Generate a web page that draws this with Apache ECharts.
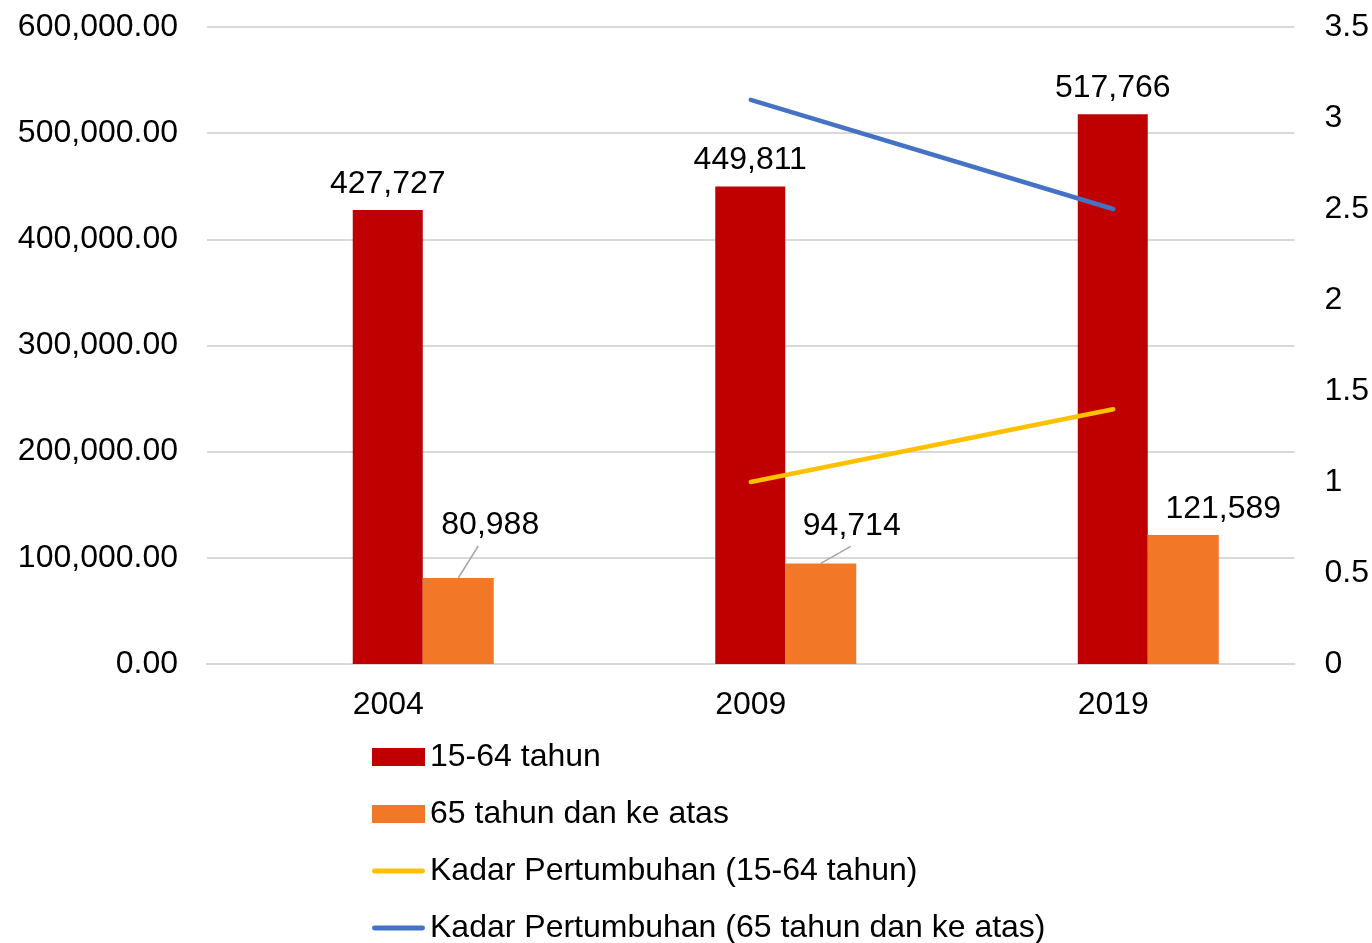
<!DOCTYPE html>
<html>
<head>
<meta charset="utf-8">
<script src="https://cdn.jsdelivr.net/npm/echarts@6/dist/echarts.min.js"></script>
<style>
  html, body { margin: 0; padding: 0; background: #fff; }
  #chart { width: 1372px; height: 943px; }
</style>
</head>
<body>
<div id="chart"></div>
<script>
// data
var years = ['2004', '2009', '2019']
var pop1564 = [427727, 449811, 517766]
var pop65 = [80988, 94714, 121589]
var rate1564 = ['-', 1.0, 1.4]
var rate65 = ['-', 3.1, 2.5]
var seriesNames = ['15-64 tahun', '65 tahun dan ke atas', 'Kadar Pertumbuhan (15-64 tahun)', 'Kadar Pertumbuhan (65 tahun dan ke atas)']

// label nudges for orange bars (dx, dy) and leader line ends (relative to bar top centre)
var pop65LabelShift = [[32, -27], [31, -11], [40, 0]]
var pop65Leader = [[20, -32], [30, -17], null]

var font = "'Liberation Sans', Arial, sans-serif"
var lineIcon = 'path://M0,0 L0.01,0 M2,6.5 L51,6.5 A2.5,2.5 0 0 1 51,11.5 L2,11.5 A2.5,2.5 0 0 1 2,6.5 Z M0,18 L0.01,18'
var chart = echarts.init(document.getElementById('chart'))

function fmtThousands(v) {
  return Number(v).toLocaleString('en-US')
}

var option = {
  animation: false,
  textStyle: { fontFamily: font },
  grid: { left: 207, right: 77, top: 27, bottom: 279 },
  legend: {
    data: [
      { name: seriesNames[0], icon: 'rect' },
      { name: seriesNames[1], icon: 'rect' },
      { name: seriesNames[2], icon: lineIcon },
      { name: seriesNames[3], icon: lineIcon }
    ],
    orient: 'vertical',
    left: 367,
    top: 736,
    height: 220,
    itemWidth: 53,
    itemHeight: 18,
    itemGap: 25,
    itemStyle: { borderWidth: 0 },
    textStyle: { fontSize: 32, color: '#000', fontFamily: font }
  },
  xAxis: {
    type: 'category',
    data: years,
    axisLine: { lineStyle: { color: '#d9d9d9', width: 2 } },
    axisTick: { show: false },
    axisLabel: { color: '#000', fontSize: 32, margin: 25, fontFamily: font }
  },
  yAxis: [
    {
      type: 'value',
      min: 0,
      max: 600000,
      interval: 100000,
      axisLine: { show: false },
      axisTick: { show: false },
      splitLine: { lineStyle: { color: '#d9d9d9', width: 2 } },
      axisLabel: {
        color: '#000', fontSize: 32, margin: 29, fontFamily: font,
        padding: [4, 0, 0, 0],
        formatter: function (v) {
          return Number(v).toLocaleString('en-US', { minimumFractionDigits: 2, maximumFractionDigits: 2 })
        }
      }
    },
    {
      type: 'value',
      min: 0,
      max: 3.5,
      interval: 0.5,
      axisLine: { show: false },
      axisTick: { show: false },
      splitLine: { show: false },
      axisLabel: { color: '#000', fontSize: 32, margin: 30, fontFamily: font, padding: [4, 0, 0, 0] }
    }
  ],
  series: [
    {
      // empty slot so the red bar sits on the category centre
      name: 'spacer',
      type: 'bar',
      barWidth: 70,
      barGap: 0,
      data: ['-', '-', '-'],
      silent: true
    },
    {
      name: seriesNames[0],
      type: 'bar',
      barWidth: 70,
      barGap: 0,
      itemStyle: { color: '#C00000' },
      label: {
        show: true, position: 'top', distance: 10,
        fontSize: 32, color: '#000', fontFamily: font,
        formatter: function (p) { return fmtThousands(p.value) }
      },
      data: pop1564
    },
    {
      name: seriesNames[1],
      type: 'bar',
      barWidth: 71,
      barGap: 0,
      itemStyle: { color: '#F27727' },
      label: {
        show: true, position: 'top', distance: 10,
        fontSize: 32, color: '#000', fontFamily: font,
        formatter: function (p) { return fmtThousands(p.value) }
      },
      labelLayout: function (params) {
        var s = pop65LabelShift[params.dataIndex]
        return { dx: s[0], dy: s[1] }
      },
      data: pop65
    },
    {
      name: seriesNames[2],
      type: 'line',
      yAxisIndex: 1,
      showSymbol: false,
      symbol: 'none',
      lineStyle: { color: '#FFC000', width: 4.5, cap: 'round' },
      itemStyle: { color: '#FFC000' },
      data: rate1564
    },
    {
      name: seriesNames[3],
      type: 'line',
      yAxisIndex: 1,
      showSymbol: false,
      symbol: 'none',
      lineStyle: { color: '#4472C4', width: 4.5, cap: 'round' },
      itemStyle: { color: '#4472C4' },
      data: rate65
    }
  ]
}

chart.setOption(option)

// leader lines from the orange bar tops to their shifted labels
var barData = chart.getModel().getSeriesByIndex(2).getData()
var leaders = []
pop65.forEach(function (v, i) {
  if (!pop65Leader[i]) return
  var lay = barData.getItemLayout(i)
  var cx = lay.x + lay.width / 2
  var top = Math.min(lay.y, lay.y + lay.height)
  leaders.push({
    type: 'line',
    silent: true,
    shape: { x1: cx, y1: top, x2: cx + pop65Leader[i][0], y2: top + pop65Leader[i][1] },
    style: { stroke: '#a6a6a6', lineWidth: 1.5 }
  })
})
chart.setOption({ graphic: leaders })
</script>
</body>
</html>
